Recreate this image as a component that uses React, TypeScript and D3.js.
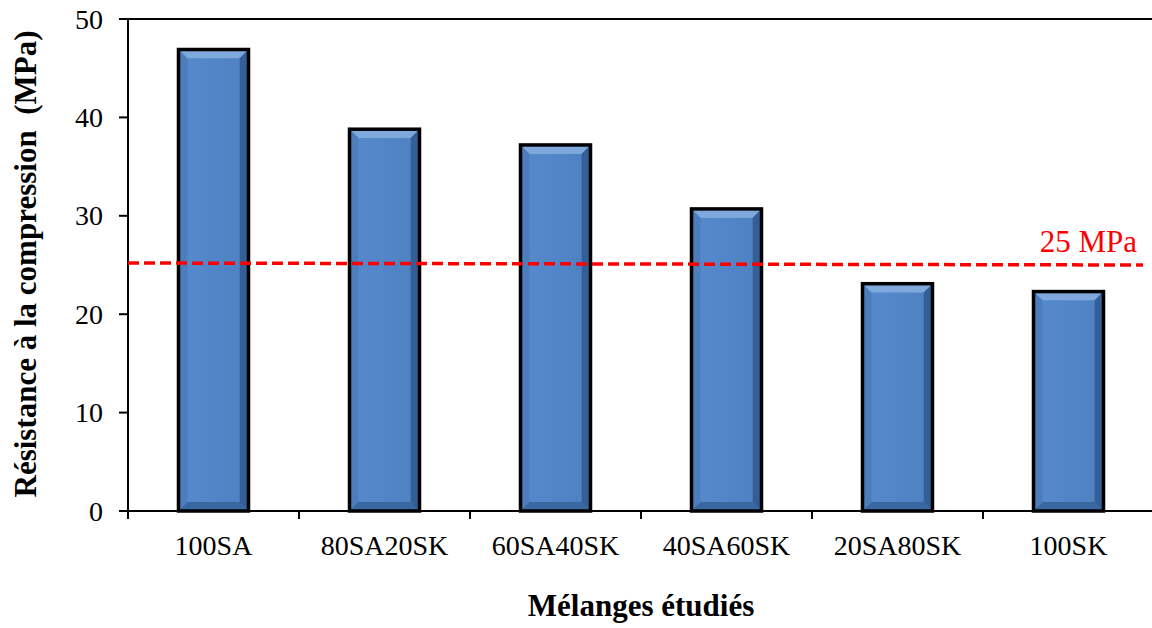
import React from "react";
import * as d3 from "d3";

const categories = ["100SA", "80SA20SK", "60SA40SK", "40SA60SK", "20SA80SK", "100SK"];
const values = [46.9, 38.8, 37.2, 30.7, 23.1, 22.3];
const yTicks = [0, 10, 20, 30, 40, 50];
const threshold = 25;
const thresholdLabel = "25 MPa";
const yTitle = "Résistance à la compression  (MPa)";
const xTitle = "Mélanges étudiés";

const W = 1152;
const H = 628;
const left = 128;
const right = 1154;
const top = 19;
const bottom = 511;
const font = "Liberation Serif";

export default function App() {
  const x = d3.scaleBand<string>().domain(categories).range([left, right]).padding(0);
  const y = d3.scaleLinear().domain([0, 50]).range([bottom, top]);
  const barW = 70;
  const bevel = 9;
  const p = (pts: number[][]) => pts.map((q) => q.join(",")).join(" ");

  return (
    <svg width={W} height={H} style={{ position: "absolute", left: 0, top: 0, background: "#fff" }}>
      <defs>
        <linearGradient id="face" x1="0" y1="0" x2="1" y2="0">
          <stop offset="0" stopColor="#5689CC" />
          <stop offset="1" stopColor="#4F82C3" />
        </linearGradient>
      </defs>
      <line x1={left} x2={W} y1={y(50)} y2={y(50)} stroke="#000" strokeWidth={2} />
      {categories.map((c, i) => {
        const cx = (x(c) as number) + x.bandwidth() / 2;
        const x0 = cx - barW / 2;
        const x1 = cx + barW / 2;
        const y0 = y(values[i]);
        const y1 = y(0);
        const b = Math.min(bevel, (y1 - y0) / 2);
        const ix0 = x0 + b, ix1 = x1 - b, iy0 = y0 + b, iy1 = y1 - b;
        return (
          <g key={c}>
            <rect x={x0} y={y0} width={barW} height={y1 - y0} fill="#4F81BD" />
            <polygon points={p([[x0, y0], [x1, y0], [ix1, iy0], [ix0, iy0]])} fill="#7FA8DD" />
            <polygon points={p([[x0, y0], [ix0, iy0], [ix0, iy1], [x0, y1]])} fill="#4C7DBD" />
            <polygon points={p([[x1, y0], [x1, y1], [ix1, iy1], [ix1, iy0]])} fill="#335F96" />
            <polygon points={p([[x0, y1], [ix0, iy1], [ix1, iy1], [x1, y1]])} fill="#3A67A0" />
            <rect x={ix0} y={iy0} width={ix1 - ix0} height={Math.max(0, iy1 - iy0)} fill="url(#face)" />
            <rect x={x0} y={y0} width={barW} height={y1 - y0} fill="none" stroke="#000" strokeWidth={3.5} />
          </g>
        );
      })}
      <line x1={left} x2={left} y1={top - 1} y2={bottom + 8} stroke="#000" strokeWidth={2} />
      <line x1={left} x2={W} y1={bottom} y2={bottom} stroke="#000" strokeWidth={2} />
      {yTicks.map((t) => (
        <g key={t}>
          <line x1={left - 9} x2={left} y1={y(t)} y2={y(t)} stroke="#000" strokeWidth={2} />
          <text x={103} y={y(t) + 9.5} textAnchor="end" fontFamily={font} fontSize={28} fill="#000">
            {t}
          </text>
        </g>
      ))}
      {categories.map((c, i) => {
        const bx = x(c) as number;
        const cx = bx + x.bandwidth() / 2;
        return (
          <g key={c}>
            {i > 0 && <line x1={bx} x2={bx} y1={bottom} y2={bottom + 8} stroke="#000" strokeWidth={2} />}
            <text x={cx} y={555} textAnchor="middle" fontFamily={font} fontSize={28} fill="#000">
              {c}
            </text>
          </g>
        );
      })}
      <line x1={left} x2={1143} y1={y(threshold) - 2} y2={y(threshold)} stroke="#FF0000" strokeWidth={3.5} strokeDasharray="11 5" />
      <text x={1137} y={252} textAnchor="end" fontFamily={font} fontSize={31} fill="#FF0000">
        {thresholdLabel}
      </text>
      <text
        transform={`translate(36, 264) rotate(-90)`}
        textAnchor="middle"
        fontFamily={font}
        style={{ whiteSpace: "pre" }}
        fontSize={31}
        fontWeight="bold"
        fill="#000"
      >
        {yTitle}
      </text>
      <text x={641} y={616} textAnchor="middle" fontFamily={font} fontSize={31} fontWeight="bold" fill="#000">
        {xTitle}
      </text>
    </svg>
  );
}
